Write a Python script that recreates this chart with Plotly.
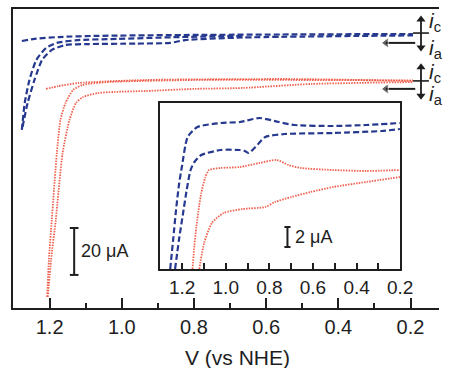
import plotly.graph_objects as go

# ---------------- data (main panel: V vs NHE, current in uA incl. offsets) -------------
blue_top_v = [1.277, 1.242, 1.175, 1.067, 0.798, 0.529, 0.193]
blue_top_i = [113.8, 114.7, 115.5, 116.0, 116.4, 116.6, 116.8]

blue_outer_v = [1.277, 1.269, 1.256, 1.237, 1.210, 1.180, 1.121, 1.013, 0.839, 0.664]
blue_outer_i = [75.9, 87.4, 97.2, 105.7, 110.8, 113.0, 114.2, 114.7, 115.5, 116.0]

blue_inner_v = [1.275, 1.261, 1.242, 1.221, 1.194, 1.156, 1.094, 0.960, 0.866, 0.825, 0.664, 0.193]
blue_inner_i = [77.2, 87.4, 97.2, 105.7, 110.0, 112.1, 112.5, 112.7, 113.0, 114.2, 115.3, 116.2]

red_top_v = [1.210, 1.175, 1.121, 0.933, 0.529, 0.193]
red_top_i = [93.4, 94.6, 95.9, 97.2, 97.6, 96.8]

red_outer_v = [1.207, 1.202, 1.194, 1.180, 1.170, 1.156, 1.135, 1.108, 1.040, 0.798, 0.529, 0.193]
red_outer_i = [4.7, 20.5, 37.5, 66.1, 80.2, 87.4, 92.9, 95.1, 96.3, 97.2, 97.2, 97.0]

red_inner_v = [1.205, 1.196, 1.183, 1.164, 1.145, 1.127, 1.108, 1.067, 1.021, 0.933, 0.798, 0.664, 0.475, 0.193]
red_inner_i = [4.7, 20.5, 37.5, 66.1, 80.2, 87.4, 89.9, 91.6, 92.1, 92.5, 93.4, 93.8, 95.5, 96.3]

# ---------------- data (inset, current in uA) ----------------
in_blue_up_v = [1.2547, 1.2413, 1.228, 1.2147, 1.2013, 1.1747, 1.130, 1.0236, 0.9347, 0.8458, 0.757, 0.6858, 0.508, 0.3569, 0.2013]
in_blue_up_i = [0.0, 2.9, 5.9, 8.4, 10.2, 13.2, 14.2, 14.6, 14.7, 15.1, 14.7, 14.4, 14.3, 14.4, 14.6]

in_blue_lo_v = [1.2324, 1.2147, 1.197, 1.1791, 1.1613, 1.1436, 1.1124, 1.0236, 0.9347, 0.9124, 0.8947, 0.8636, 0.819, 0.730, 0.508, 0.2858, 0.2013]
in_blue_lo_i = [0.0, 2.9, 5.4, 7.9, 9.9, 10.7, 11.4, 11.9, 11.9, 11.8, 11.6, 12.2, 13.2, 13.5, 13.6, 13.8, 14.0]

in_red_up_v = [1.1524, 1.1436, 1.1347, 1.1213, 1.1124, 1.0947, 1.0769, 1.0236, 0.9347, 0.8458, 0.7658, 0.7124, 0.6547, 0.508, 0.3569, 0.2013]
in_red_up_i = [0.0, 2.4, 4.2, 6.4, 7.6, 9.1, 9.9, 10.1, 10.2, 10.6, 10.9, 10.4, 10.1, 9.9, 9.8, 9.9]

in_red_lo_v = [1.1213, 1.0991, 1.0636, 1.0102, 0.9213, 0.819, 0.7747, 0.6991, 0.6102, 0.508, 0.3569, 0.2013]
in_red_lo_i = [0.0, 2.6, 4.6, 5.6, 6.0, 6.2, 6.7, 7.2, 7.7, 8.2, 8.7, 9.2]

x_ticks = [1.2, 1.0, 0.8, 0.6, 0.4, 0.2]
x_ticktext = ["1.2", "1.0", "0.8", "0.6", "0.4", "0.2"]

BLUE = "#26398f"
RED = "#f0604e"
INK = "#1e1e1e"
FONT = "Liberation Sans, Arial, sans-serif"

fig = go.Figure()

def blue(v, i, xa="x", ya="y"):
    fig.add_trace(go.Scatter(x=v, y=i, mode="lines", xaxis=xa, yaxis=ya,
                             line=dict(color=BLUE, width=2.2, dash="6px,3px", shape="spline", smoothing=0.6),
                             hoverinfo="skip", showlegend=False))

def red(v, i, xa="x", ya="y"):
    fig.add_trace(go.Scatter(x=v, y=i, mode="lines", xaxis=xa, yaxis=ya,
                             line=dict(color=RED, width=1.8, dash="1.5px,1.2px", shape="spline", smoothing=0.6),
                             hoverinfo="skip", showlegend=False))

blue(blue_top_v, blue_top_i)
blue(blue_outer_v, blue_outer_i)
blue(blue_inner_v, blue_inner_i)
red(red_top_v, red_top_i)
red(red_outer_v, red_outer_i)
red(red_inner_v, red_inner_i)

blue(in_blue_up_v, in_blue_up_i, "x2", "y2")
blue(in_blue_lo_v, in_blue_lo_i, "x2", "y2")
red(in_red_up_v, in_red_up_i, "x2", "y2")
red(in_red_lo_v, in_red_lo_i, "x2", "y2")

shapes = []
ann = []

# main scale bar 20 uA
sb_x, sb_lo, sb_hi = 1.132, 14.1, 34.1
shapes += [
    dict(type="line", xref="x", yref="y", x0=sb_x, x1=sb_x, y0=sb_lo, y1=sb_hi, line=dict(color=INK, width=2)),
    dict(type="line", xref="x", yref="y", x0=sb_x + 0.012, x1=sb_x - 0.012, y0=sb_lo, y1=sb_lo, line=dict(color=INK, width=2)),
    dict(type="line", xref="x", yref="y", x0=sb_x + 0.012, x1=sb_x - 0.012, y0=sb_hi, y1=sb_hi, line=dict(color=INK, width=2)),
]
ann.append(dict(xref="x", yref="y", x=1.118, y=24.4, text="20 μA", showarrow=False,
                xanchor="left", yanchor="middle", font=dict(size=18, color=INK, family=FONT)))

# inset scale bar 2 uA
ib_x, ib_lo, ib_hi = 0.717, 2.2, 4.2
shapes += [
    dict(type="line", xref="x2", yref="y2", x0=ib_x, x1=ib_x, y0=ib_lo, y1=ib_hi, line=dict(color=INK, width=2)),
    dict(type="line", xref="x2", yref="y2", x0=ib_x + 0.014, x1=ib_x - 0.014, y0=ib_lo, y1=ib_lo, line=dict(color=INK, width=2)),
    dict(type="line", xref="x2", yref="y2", x0=ib_x + 0.014, x1=ib_x - 0.014, y0=ib_hi, y1=ib_hi, line=dict(color=INK, width=2)),
]
ann.append(dict(xref="x2", yref="y2", x=0.69, y=3.2, text="2 μA", showarrow=False,
                xanchor="left", yanchor="middle", font=dict(size=18, color=INK, family=FONT)))

# scan direction arrows and current sign markers
marks = [  # (center current, up tip, down tip, horizontal arrow y, ic label y, ia label y)
    (117.2, 123.0, 111.0, 113.0, 121.8, 110.2),
    (96.8, 102.6, 90.5, 93.4, 100.3, 90.8),
]
vx = 0.171
for c, up, dn, hy, ly1, ly2 in marks:
    # vertical double arrow
    fig.add_trace(go.Scatter(x=[vx, vx], y=[dn, up], mode="lines+markers",
                             line=dict(color=INK, width=1.8),
                             marker=dict(symbol=["triangle-down", "triangle-up"], size=8, color=INK),
                             hoverinfo="skip", showlegend=False))
    shapes.append(dict(type="line", xref="x", yref="y", x0=vx + 0.022, x1=vx - 0.022, y0=c, y1=c,
                       line=dict(color=INK, width=1.6)))
    # horizontal scan-direction arrow
    fig.add_trace(go.Scatter(x=[0.187, 0.268], y=[hy, hy], mode="lines+markers",
                             line=dict(color=INK, width=2),
                             marker=dict(symbol=["circle", "triangle-left"], size=[0, 9], color=INK),
                             hoverinfo="skip", showlegend=False))
    ann.append(dict(xref="x", yref="y", x=0.155, y=ly1, text="<i>i</i><sub>c</sub>", showarrow=False,
                    xanchor="left", yanchor="middle", font=dict(size=21, color=INK, family=FONT)))
    ann.append(dict(xref="x", yref="y", x=0.155, y=ly2, text="<i>i</i><sub>a</sub>", showarrow=False,
                    xanchor="left", yanchor="middle", font=dict(size=21, color=INK, family=FONT)))

ann.append(dict(xref="paper", yref="paper", x=0.528, y=-0.164, text="V (vs NHE)", showarrow=False,
                xanchor="center", yanchor="middle", font=dict(size=21, color=INK, family=FONT)))

fig.update_layout(
    width=452, height=368,
    margin=dict(l=13, r=0, t=9, b=60),
    paper_bgcolor="white", plot_bgcolor="white",
    font=dict(family=FONT, color=INK),
    shapes=shapes, annotations=ann,
    xaxis=dict(range=[1.3015, 0.1211], showline=True, linecolor=INK, linewidth=2, mirror=True,
               tickmode="array", tickvals=x_ticks, ticktext=x_ticktext, ticks="inside", ticklen=10,
               tickwidth=1.6, tickcolor=INK, tickfont=dict(size=20, color=INK, family=FONT),
               minor=dict(dtick=0.1, tick0=0.2, ticks="inside", ticklen=5, tickwidth=1.6, tickcolor=INK),
               showgrid=False, zeroline=False, fixedrange=True),
    yaxis=dict(range=[0, 127.45], showline=True, linecolor=INK, linewidth=2, mirror=False,
               showticklabels=False, ticks="", showgrid=False, zeroline=False),
    xaxis2=dict(domain=[0.3440, 0.9089], anchor="y2", range=[1.3036, 0.2], showline=True, linecolor=INK,
                linewidth=2, mirror=True, tickmode="array", tickvals=x_ticks, ticktext=x_ticktext,
                ticks="inside", ticklen=6, tickwidth=1.5, tickcolor=INK,
                tickfont=dict(size=19, color=INK, family=FONT),
                minor=dict(dtick=0.1, tick0=0.2, ticks="inside", ticklen=6, tickwidth=1.5, tickcolor=INK),
                showgrid=False, zeroline=False),
    yaxis2=dict(domain=[0.1304, 0.6856], anchor="x2", range=[0, 16.6], showline=True, linecolor=INK,
                linewidth=2, mirror=True, showticklabels=False, ticks="", showgrid=False, zeroline=False),
)

fig.write_html("out.html")
